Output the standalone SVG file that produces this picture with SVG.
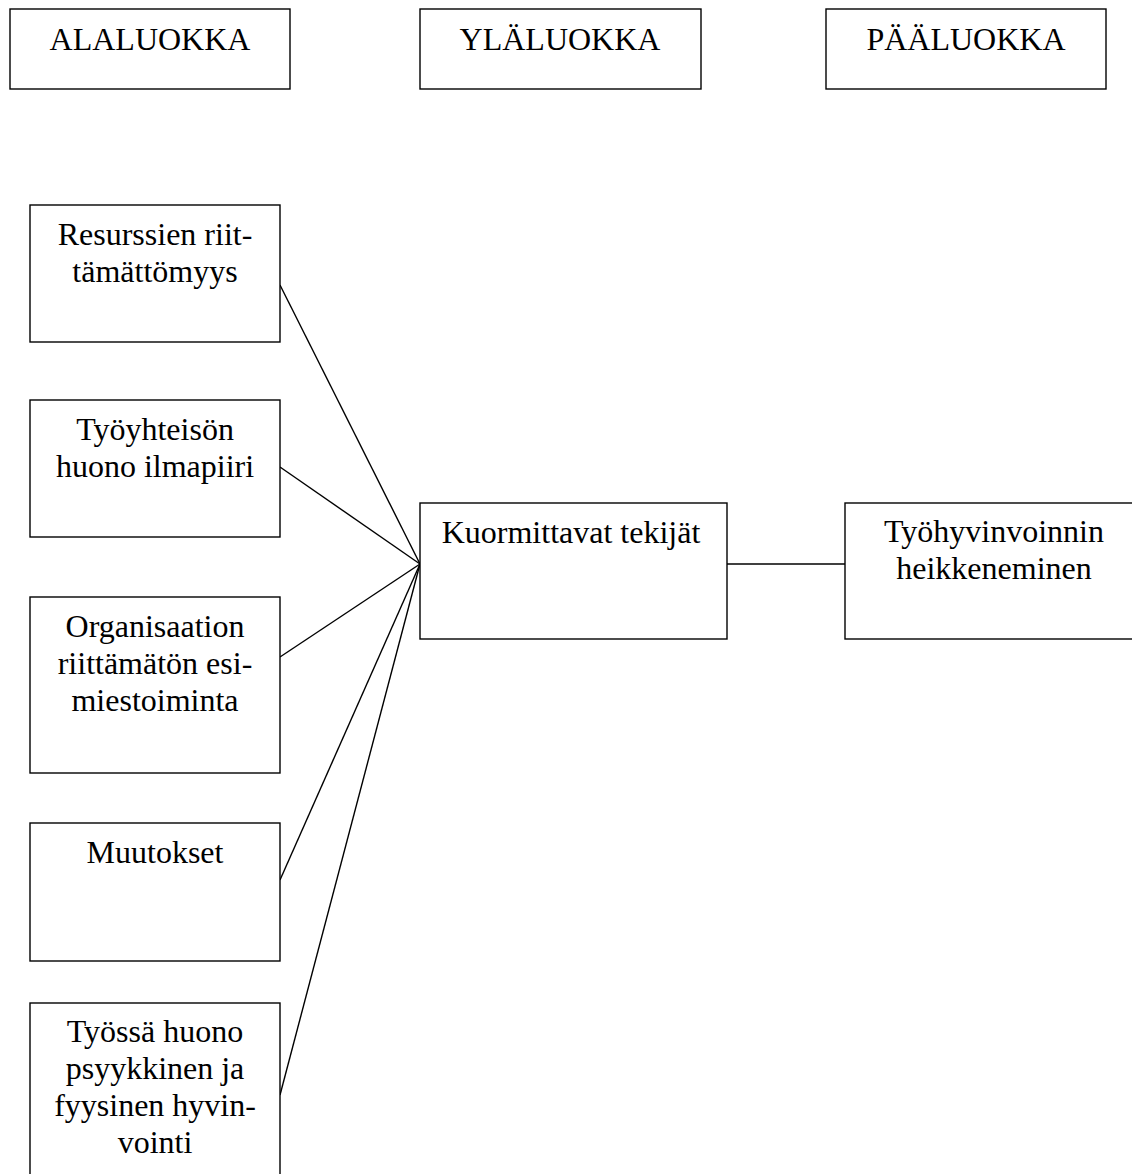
<svg xmlns="http://www.w3.org/2000/svg" width="1132" height="1174" viewBox="0 0 1132 1174">
<style>
rect{fill:#fff;stroke:#000;stroke-width:1.4}
text{font-family:"Liberation Serif","Times New Roman",serif;font-size:32px;fill:#000;text-anchor:middle}
#connectors line{stroke:#000;stroke-width:1.4}
</style>
<rect x="0" y="0" width="1132" height="1174" style="stroke:none"/>
<g id="connectors">
<line x1="280" y1="285" x2="420" y2="564"/>
<line x1="280" y1="467" x2="420" y2="564"/>
<line x1="280" y1="657" x2="420" y2="564"/>
<line x1="280" y1="880" x2="420" y2="564"/>
<line x1="280" y1="1095" x2="420" y2="564"/>
<line x1="727" y1="564" x2="846" y2="564"/>
</g>
<g id="alaluokka"><rect x="10" y="9" width="280" height="80"/><text x="150" y="50">ALALUOKKA</text></g>
<g id="ylaluokka"><rect x="420" y="9" width="281" height="80"/><text x="560" y="50">YLÄLUOKKA</text></g>
<g id="paaluokka"><rect x="826" y="9" width="280" height="80"/><text x="966" y="50">PÄÄLUOKKA</text></g>
<g id="resurssien"><rect x="30" y="205" width="250" height="137"/><text x="155" y="245">Resurssien riit-</text><text x="155" y="282">tämättömyys</text></g>
<g id="tyoyhteison"><rect x="30" y="400" width="250" height="137"/><text x="155" y="440">Työyhteisön</text><text x="155" y="477">huono ilmapiiri</text></g>
<g id="organisaation"><rect x="30" y="597" width="250" height="176"/><text x="155" y="637">Organisaation</text><text x="155" y="674">riittämätön esi-</text><text x="155" y="711">miestoiminta</text></g>
<g id="muutokset"><rect x="30" y="823" width="250" height="138"/><text x="155" y="863">Muutokset</text></g>
<g id="tyossa"><rect x="30" y="1003" width="250" height="180"/><text x="155" y="1042">Työssä huono</text><text x="155" y="1079">psyykkinen ja</text><text x="155" y="1116">fyysinen hyvin-</text><text x="155" y="1153">vointi</text></g>
<g id="kuormittavat"><rect x="420" y="503" width="307" height="136"/><text x="571" y="543">Kuormittavat tekijät</text></g>
<g id="tyohyvinvoinnin"><rect x="845" y="503" width="300" height="136"/><text x="994" y="542">Työhyvinvoinnin</text><text x="994" y="579">heikkeneminen</text></g>
</svg>
